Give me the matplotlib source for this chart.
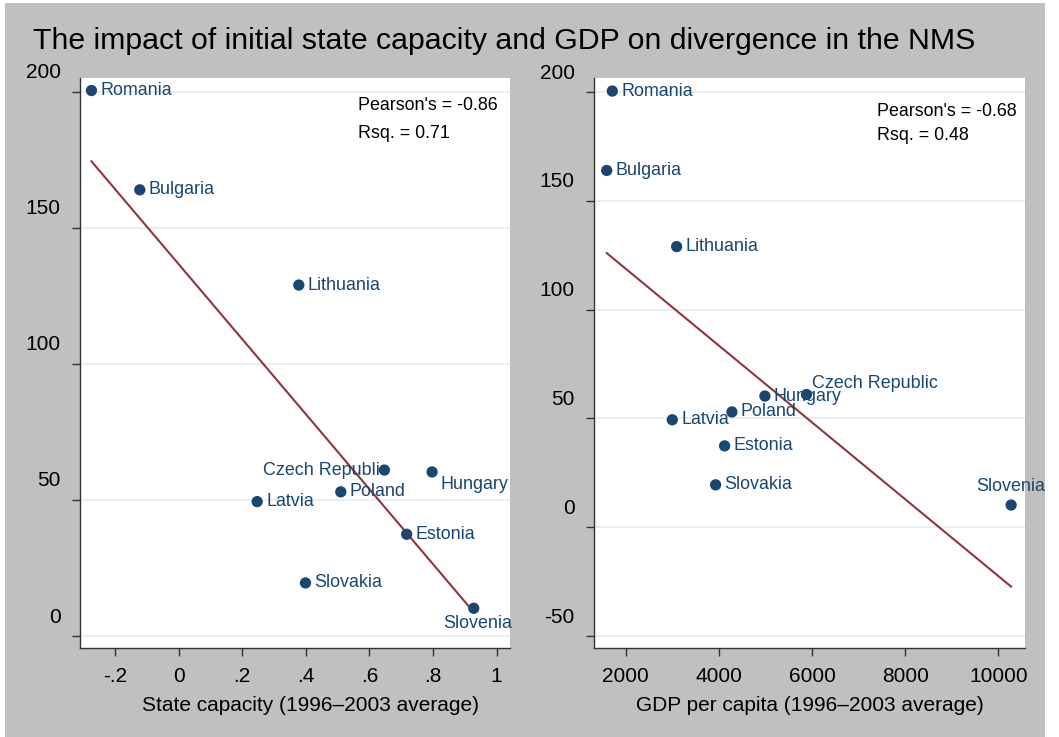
import numpy as np
import matplotlib
matplotlib.use("Agg")
import matplotlib.pyplot as plt
from matplotlib.patches import Rectangle
from matplotlib.transforms import ScaledTranslation

plt.rcParams['font.family'] = ['Liberation Sans', 'DejaVu Sans']

# data
countries = ['Romania', 'Bulgaria', 'Lithuania', 'Czech Republic', 'Hungary',
             'Poland', 'Latvia', 'Estonia', 'Slovakia', 'Slovenia']
divergence = [200.5, 164, 129, 61, 60.3, 53, 49.4, 37.4, 19.5, 10.2]
state_capacity = [-0.274, -0.122, 0.378, 0.647, 0.797, 0.510, 0.247, 0.717, 0.399, 0.928]
gdp_pc = [1712, 1592, 3094, 5882, 4989, 4281, 3000, 4124, 3931, 10275]

left_stats = ["Pearson's = -0.86", "Rsq. = 0.71"]
right_stats = ["Pearson's = -0.68", "Rsq. = 0.48"]

left_xticks = [-0.2, 0, 0.2, 0.4, 0.6, 0.8, 1]
left_xlabels = ['-.2', '0', '.2', '.4', '.6', '.8', '1']
left_yticks = [0, 50, 100, 150, 200]
right_xticks = [2000, 4000, 6000, 8000, 10000]
right_yticks = [-50, 0, 50, 100, 150, 200]

navy = '#1a476f'
maroon = '#90353b'
grid_c = '#e6eff1'
W, H = 1059, 737

fig = plt.figure(figsize=(W / 100, H / 100), dpi=100, facecolor='white')
fig.patches.append(Rectangle((5 / W, 0), 1040 / W, 1 - 3 / H, transform=fig.transFigure,
                             facecolor='#c0c0c0', edgecolor='none', zorder=-10))

fig.text(33 / W, 1 - 49 / H, 'The impact of initial state capacity and GDP on divergence in the NMS',
         fontsize=21.8, ha='left', va='baseline', color='black')

# label positions (clock-style offsets in pixels)
left_pos = {'Czech Republic': (5, 0, 'right', 'center'),
            'Hungary': (8, -12.5, 'left', 'center'),
            'Slovenia': (4, -15, 'center', 'center')}
right_pos = {'Czech Republic': (5, 11, 'left', 'center'),
             'Slovenia': (0, 19, 'center', 'center')}


def panel(rect, x, ticks_x, xlabels, ticks_y, xlim, ylim, xlabel, xlab_pos, pos, stats, stats_xy):
    ax = fig.add_axes(rect)
    ax.set_facecolor('white')
    ax.set_xlim(*xlim)
    ax.set_ylim(*ylim)
    ax.set_xticks(ticks_x)
    ax.set_xticklabels(xlabels)
    ax.set_yticks(ticks_y)
    ax.set_yticklabels([str(t) for t in ticks_y])
    for sp in ['top', 'right']:
        ax.spines[sp].set_visible(False)
    for sp in ['left', 'bottom']:
        ax.spines[sp].set_color('#333333')
        ax.spines[sp].set_linewidth(1.0)
    ax.tick_params(axis='both', direction='out', length=6, width=1, color='#333333',
                   labelsize=15, labelcolor='black')
    ax.tick_params(axis='x', pad=8)
    ax.tick_params(axis='y', pad=8)
    for tk in ax.yaxis.get_major_ticks():
        tk.label1.set_transform(tk.label1.get_transform() + ScaledTranslation(0, 0.21, fig.dpi_scale_trans))
    ax.grid(axis='y', color=grid_c, linewidth=1.3)
    ax.set_axisbelow(True)

    # linear fit
    b, a = np.polyfit(x, divergence, 1)
    xs = np.array([min(x), max(x)])
    ax.plot(xs, a + b * xs, color=maroon, linewidth=1.5, zorder=2)

    ax.scatter(x, divergence, s=66, color=navy, zorder=4, edgecolors='none')
    for c, xi, yi in zip(countries, x, divergence):
        dx, dy, ha, va = pos.get(c, (9, 0, 'left', 'center'))
        ax.annotate(c, (xi, yi), xytext=(dx * 0.72, dy * 0.72), textcoords='offset points',
                    ha=ha, va=va, fontsize=12.9, color=navy, zorder=3, annotation_clip=False)

    ax.set_xlabel(xlabel, fontsize=15)
    ax.xaxis.set_label_coords(xlab_pos, -0.085)

    (sx, sy1, sy2) = stats_xy
    fig.text(sx / W, 1 - sy1 / H, stats[0], fontsize=12.9, ha='left', va='center')
    fig.text(sx / W, 1 - sy2 / H, stats[1], fontsize=12.9, ha='left', va='center')
    return ax


bottom = 1 - 648 / H
height = 570 / H
panel([80 / W, bottom, 430 / W, height], state_capacity, left_xticks, left_xlabels, left_yticks,
      (-0.31, 1.042), (-4.4, 205.1), 'State capacity (1996\u20132003 average)', 0.535,
      left_pos, left_stats, (358, 105, 133))
panel([594.3 / W, bottom, 430.7 / W, height], gdp_pc, right_xticks, [str(t) for t in right_xticks],
      right_yticks, (1326, 10573), (-55.5, 206.5), 'GDP per capita (1996\u20132003 average)', 0.5,
      right_pos, right_stats, (877, 112, 135))

fig.savefig('out.png', dpi=100, facecolor='white')
